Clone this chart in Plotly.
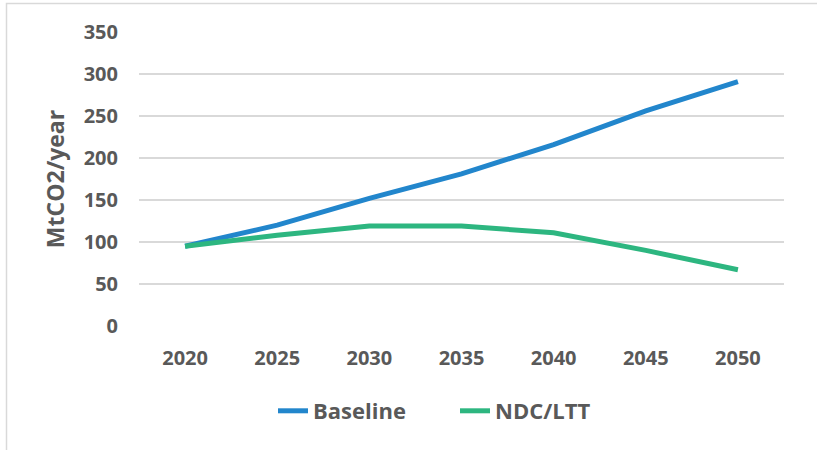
import plotly.graph_objects as go

years = ["2020", "2025", "2030", "2035", "2040", "2045", "2050"]
baseline = [95, 120, 152, 181, 216, 256, 291]
ndc_ltt = [95, 108, 119, 119, 111, 90, 67]
y_ticks = [0, 50, 100, 150, 200, 250, 300, 350]

W, H = 817, 450
ML, MR, MT, MB = 139, 33, 32, 124
pw, ph = W - ML - MR, H - MT - MB

def px2paper_x(px):
    return (px - ML) / pw

def px2paper_y(py):
    return (H - MB - py) / ph

TXT = "#595959"
FONT = "Open Sans"

fig = go.Figure()
fig.add_trace(go.Scatter(x=years, y=baseline, mode="lines", name="Baseline",
                         line=dict(color="#2286CC", width=5)))
fig.add_trace(go.Scatter(x=years, y=ndc_ltt, mode="lines", name="NDC/LTT",
                         line=dict(color="#2DB680", width=5)))

fig.update_layout(
    width=W, height=H,
    margin=dict(l=ML, r=MR, t=MT, b=MB, pad=0),
    paper_bgcolor="white", plot_bgcolor="white",
    font=dict(family=FONT, color=TXT),
    showlegend=True,
    legend=dict(orientation="h", x=px2paper_x(455), xanchor="center",
                y=px2paper_y(411), yanchor="middle",
                font=dict(family=FONT, size=22, color=TXT, weight="bold"),
                itemwidth=30, traceorder="normal",
                entrywidth=137, entrywidthmode="pixels"),
    xaxis=dict(type="category", range=[-0.5, 6.5], showgrid=False, zeroline=False,
               showline=False, ticks="",
               tickfont=dict(family=FONT, size=20, color=TXT, weight="bold"),
               ticklabelstandoff=18),
    yaxis=dict(range=[0, 350], tickvals=y_ticks, showgrid=True, gridcolor="#D9D9D9",
               gridwidth=1.5, zeroline=False, showline=False, ticks="",
               tickfont=dict(family=FONT, size=20, color=TXT, weight="bold"),
               ticklabelstandoff=20,
               title=dict(text="MtCO2/year", standoff=12,
                          font=dict(family=FONT, size=23, color=TXT, weight="bold"))),
    shapes=[
        dict(type="rect", xref="paper", yref="paper",
             x0=px2paper_x(6.5), x1=px2paper_x(840),
             y0=px2paper_y(470), y1=px2paper_y(3.5),
             line=dict(color="#D9D9D9", width=1.5), fillcolor="rgba(0,0,0,0)",
             layer="below"),
    ],
)

fig.write_html("out.html")
